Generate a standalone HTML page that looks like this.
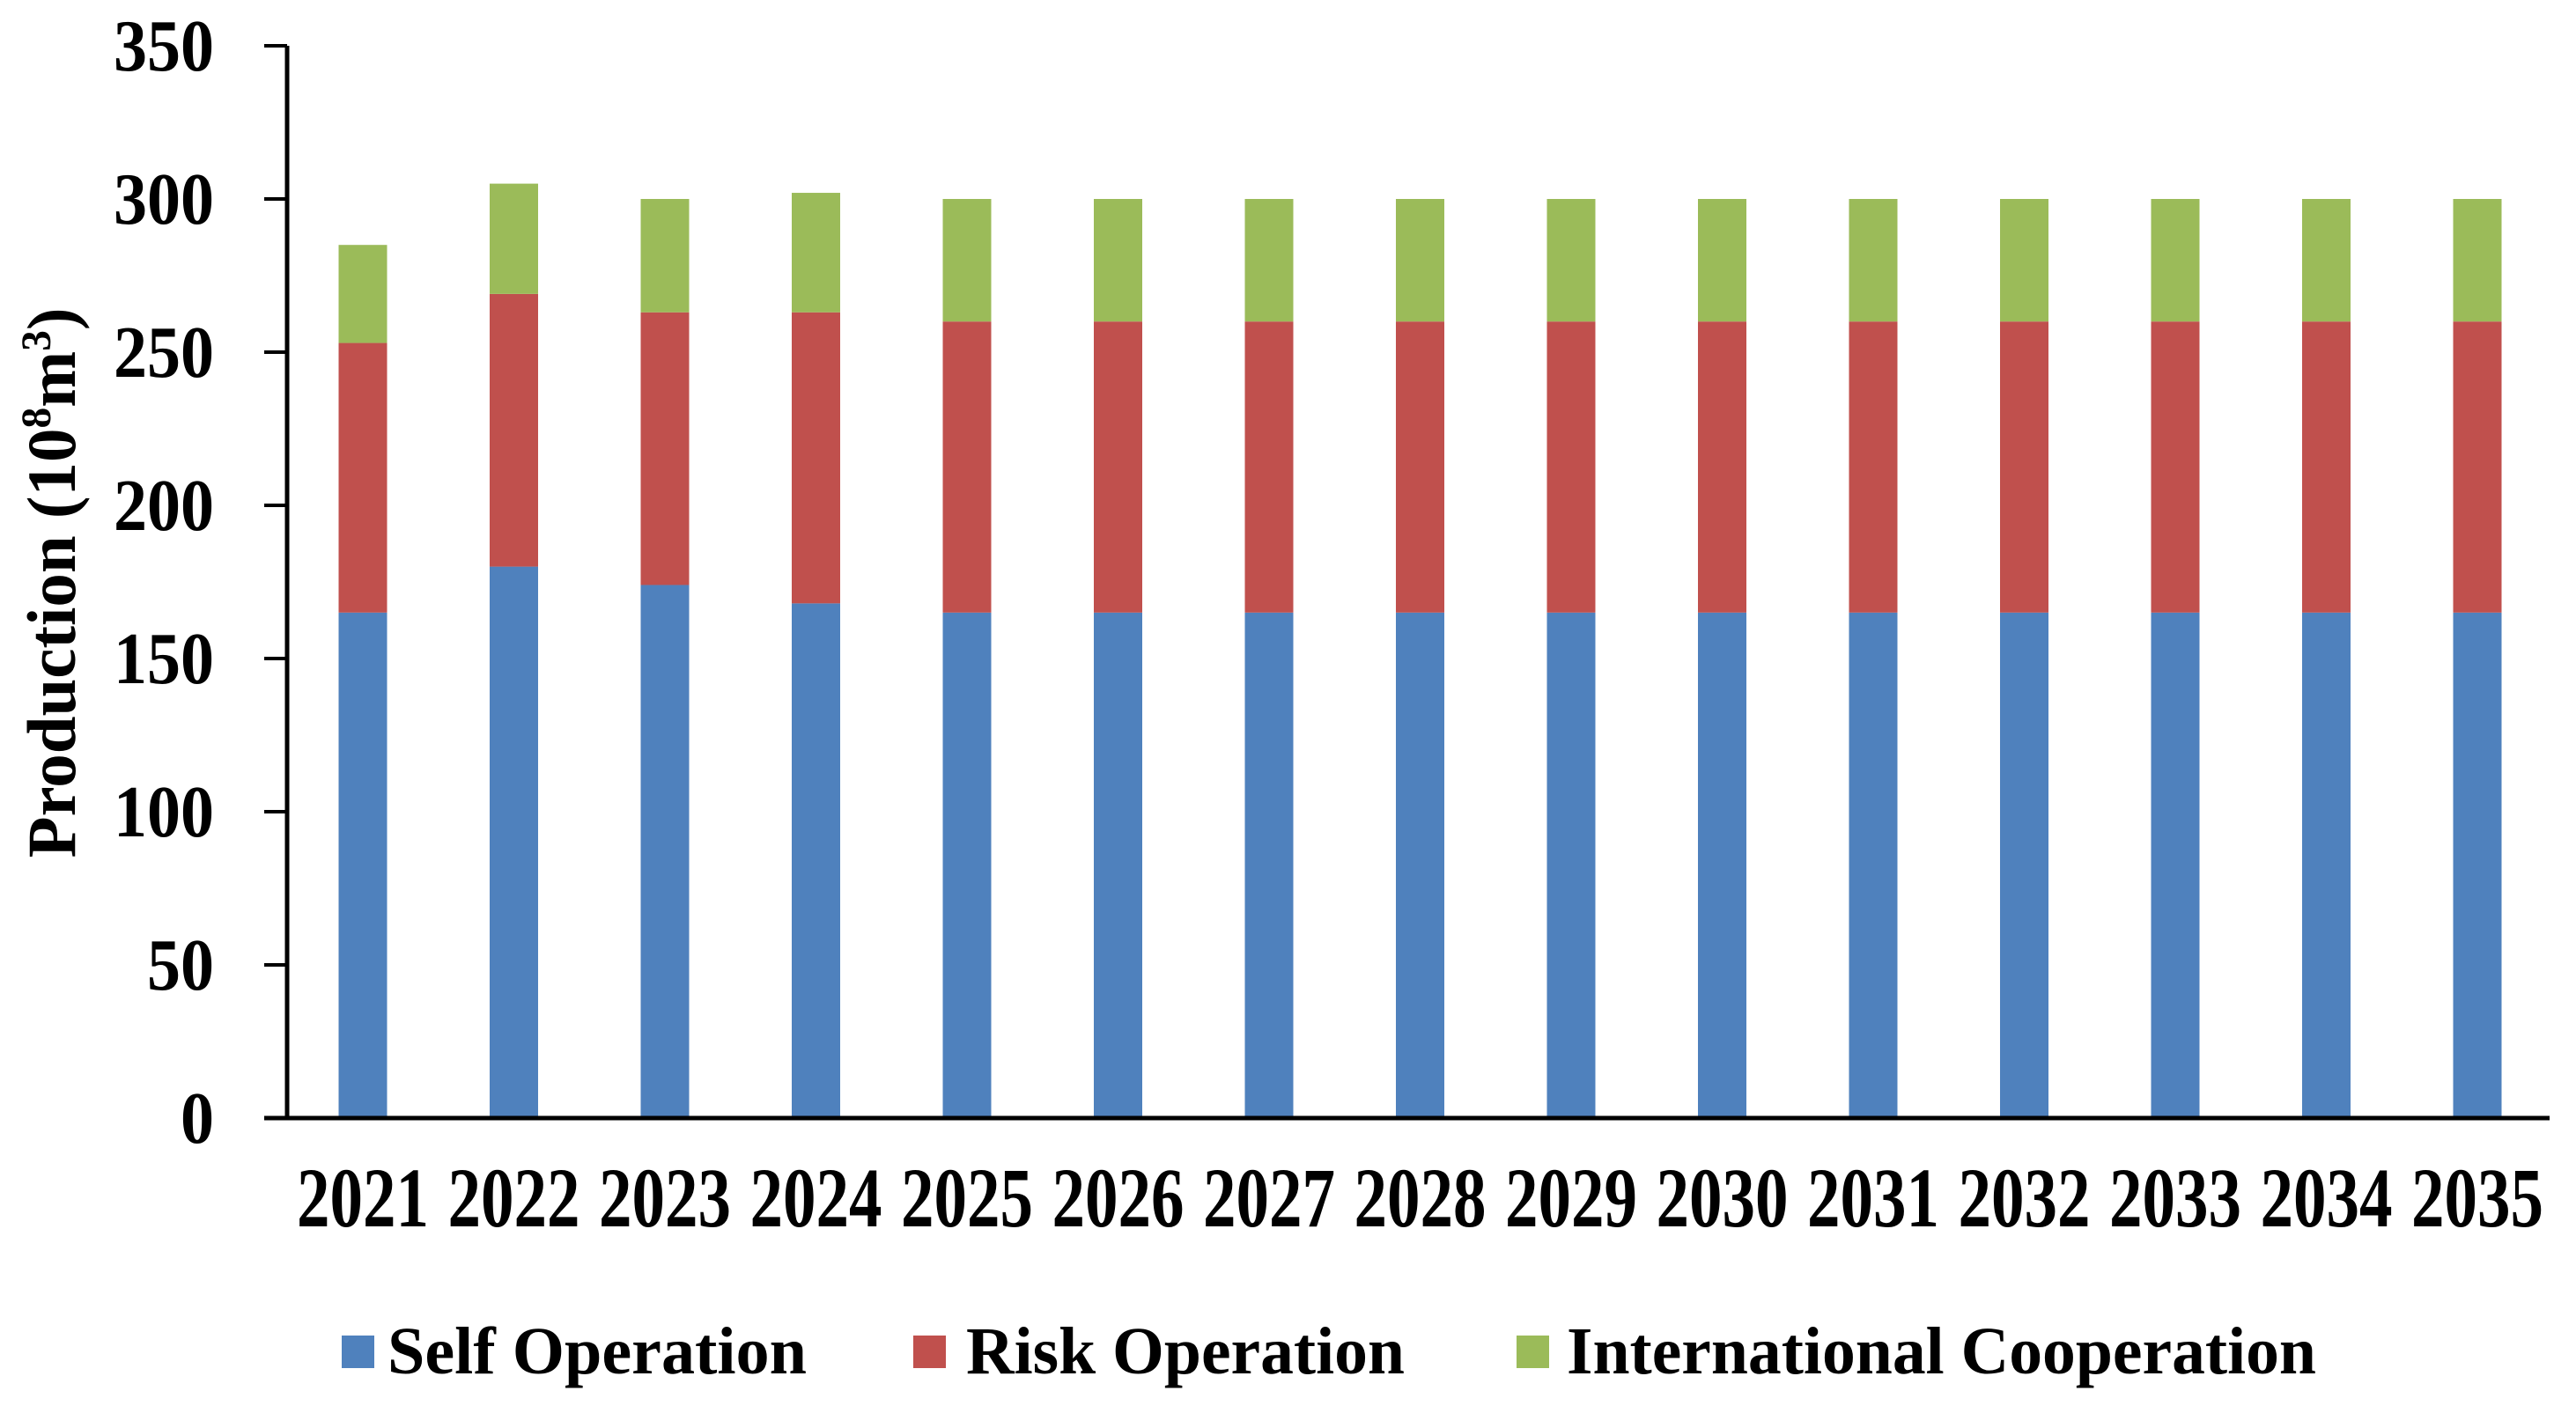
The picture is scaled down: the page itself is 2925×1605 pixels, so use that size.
<!DOCTYPE html>
<html><head><meta charset="utf-8"><style>
html,body{margin:0;padding:0;background:#fff;}
svg{display:block;}
text{font-family:"Liberation Serif","Times New Roman",serif;font-weight:bold;fill:#000;}
</style></head>
<body>
<svg id="chart" width="2925" height="1605" viewBox="0 0 2925 1605" xmlns="http://www.w3.org/2000/svg">
<g id="bars"></g>
<g id="axes"></g>
<text transform="translate(85,662) rotate(-90)" text-anchor="middle" font-size="78" textLength="625" lengthAdjust="spacingAndGlyphs">Production (10<tspan font-size="48" dy="-28">8</tspan><tspan dy="28">m</tspan><tspan font-size="48" dy="-28">3</tspan><tspan dy="28">)</tspan></text>
<g>
<rect x="388" y="1517" width="37" height="37" fill="#4f81bd"/>
<text x="440" y="1560" font-size="76" textLength="476" lengthAdjust="spacingAndGlyphs">Self Operation</text>
<rect x="1037" y="1517" width="37" height="37" fill="#c0504d"/>
<text x="1097" y="1560" font-size="76" textLength="498" lengthAdjust="spacingAndGlyphs">Risk Operation</text>
<rect x="1722" y="1517" width="37" height="37" fill="#9bbb59"/>
<text x="1779" y="1560" font-size="76" textLength="851" lengthAdjust="spacingAndGlyphs">International Cooperation</text>
</g>
</svg>
<script>
const years = ["2021","2022","2023","2024","2025","2026","2027","2028","2029","2030","2031","2032","2033","2034","2035"];
const selfOperation = [165,180,174,168,165,165,165,165,165,165,165,165,165,165,165];
const riskOperation = [88,89,89,95,95,95,95,95,95,95,95,95,95,95,95];
const intlCooperation = [32,36,37,39,40,40,40,40,40,40,40,40,40,40,40];
const yTicks = [0,50,100,150,200,250,300,350];

const NS = "http://www.w3.org/2000/svg";
const x0 = 326, xEnd = 2895, y0 = 1270, yTop = 52, yMax = 350;
const firstCenter = 412, step = 171.5, barW = 55;
function yScale(v){ return y0 - (v / yMax) * (y0 - yTop); }
function xScale(i){ return firstCenter + i * step; }

const bars = document.getElementById('bars');
const axes = document.getElementById('axes');
const series = [
  {vals: selfOperation, color: "#4f81bd", key: "self"},
  {vals: riskOperation, color: "#c0504d", key: "risk"},
  {vals: intlCooperation, color: "#9bbb59", key: "intl"}
];
years.forEach((yr, i) => {
  let base = 0;
  series.forEach(s => {
    const v = s.vals[i];
    const r = document.createElementNS(NS, 'rect');
    r.setAttribute('x', xScale(i) - barW / 2);
    r.setAttribute('y', yScale(base + v));
    r.setAttribute('width', barW);
    r.setAttribute('height', yScale(base) - yScale(base + v));
    r.setAttribute('fill', s.color);
    
    
    bars.appendChild(r);
    base += v;
  });
  const t = document.createElementNS(NS, 'text');
  t.setAttribute('x', xScale(i));
  t.setAttribute('y', 1393);
  t.setAttribute('text-anchor', 'middle');
  t.setAttribute('font-size', '96');
  t.setAttribute('textLength', '150');
  t.setAttribute('lengthAdjust', 'spacingAndGlyphs');
  t.textContent = yr;
  
  
  axes.appendChild(t);
});
yTicks.forEach(v => {
  const l = document.createElementNS(NS, 'line');
  l.setAttribute('x1', x0 - 26); l.setAttribute('x2', x0);
  l.setAttribute('y1', yScale(v)); l.setAttribute('y2', yScale(v));
  l.setAttribute('stroke', '#000'); l.setAttribute('stroke-width', '4');
  
  
  axes.appendChild(l);
  const t = document.createElementNS(NS, 'text');
  t.setAttribute('x', 243);
  t.setAttribute('y', yScale(v) + 28);
  t.setAttribute('text-anchor', 'end');
  t.setAttribute('font-size', '84');
  t.setAttribute('textLength', String(v).length * 38);
  t.setAttribute('lengthAdjust', 'spacingAndGlyphs');
  t.textContent = v;
  
  
  axes.appendChild(t);
});
const ya = document.createElementNS(NS, 'line');
ya.setAttribute('x1', x0); ya.setAttribute('x2', x0);
ya.setAttribute('y1', yTop); ya.setAttribute('y2', y0 + 2);
ya.setAttribute('stroke', '#000'); ya.setAttribute('stroke-width', '5');


axes.appendChild(ya);
const xa = document.createElementNS(NS, 'line');
xa.setAttribute('x1', x0 - 26); xa.setAttribute('x2', xEnd);
xa.setAttribute('y1', y0); xa.setAttribute('y2', y0);
xa.setAttribute('stroke', '#000'); xa.setAttribute('stroke-width', '5');


axes.appendChild(xa);
</script>
</body></html>
